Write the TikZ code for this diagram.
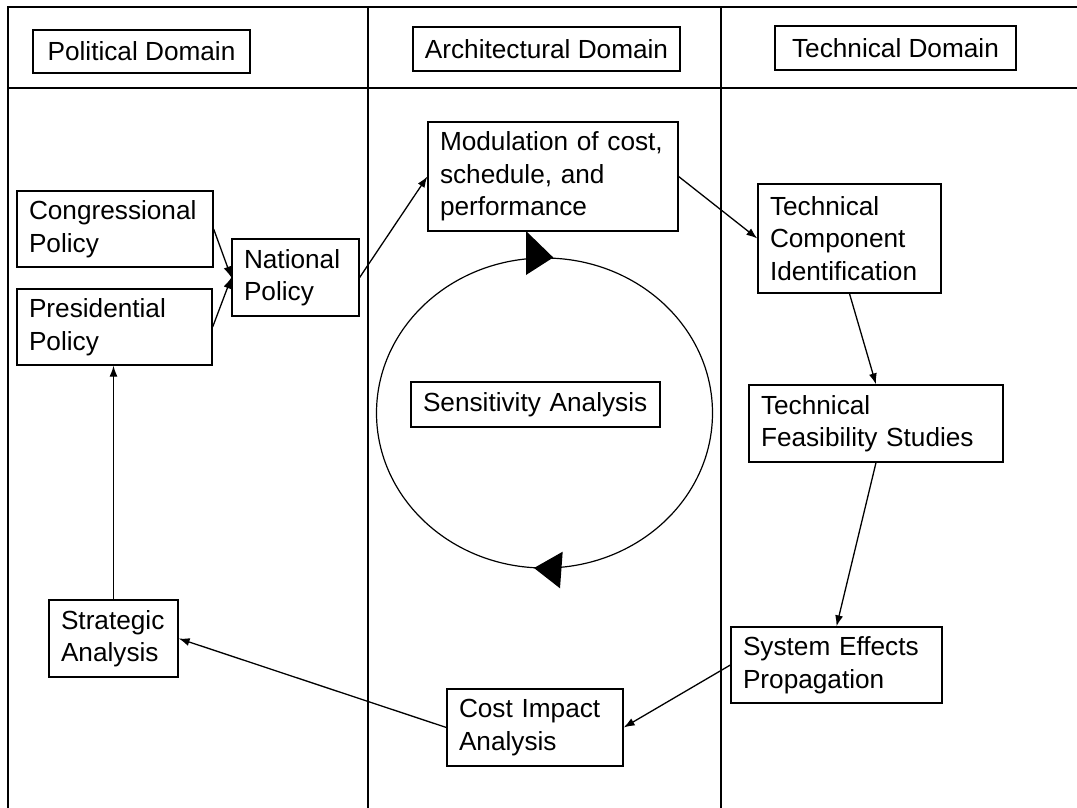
\documentclass[tikz,border=0pt]{standalone}
\usepackage{fontspec}
\setmainfont{Liberation Sans}
\usetikzlibrary{arrows.meta}

\begin{document}
\begin{tikzpicture}[x=1pt,y=-1pt,
  lbl/.style={font=\fontsize{26.2}{32.5}\selectfont},
  box/.style={lbl, draw, line width=1.3pt, inner xsep=12pt, inner ysep=0pt, align=left,
    execute at begin node={\hyphenpenalty=10000\exhyphenpenalty=10000}},
  hdr/.style={lbl, draw, line width=1.3pt, inner sep=0pt},
  flow/.style={line width=1.3pt, -{Latex[length=11pt,width=8pt]}},
  rule/.style={line width=1.3pt}]
\useasboundingbox (0,0) rectangle (1077,808);

% swim-lane frame
\draw[rule] (8,808) -- (8,7) -- (1077,7);
\draw[rule] (8,88) -- (1077,88);
\draw[rule] (368,7) -- (368,808);
\draw[rule] (721,7) -- (721,808);

% lane headers
\node[hdr, minimum width=217pt, minimum height=43pt] (hpol) at (141.5,51.5) {Political Domain};
\node[hdr, minimum width=267pt, minimum height=44pt] (harch) at (546.5,49) {Architectural Domain};
\node[hdr, minimum width=241pt, minimum height=44pt] (htech) at (895.5,48) {Technical Domain};

% process steps
\node[box, text width=172pt, minimum height=76pt] (cong) at (115,229) {Congressional\\Policy};
\node[box, text width=171pt, minimum height=76pt] (pres) at (114.5,327) {Presidential\\Policy};
\node[box, text width=103pt, minimum height=77pt] (natl) at (295.5,277.5) {National\\Policy};
\node[box, text width=226pt, minimum height=109pt] (modu) at (553,176.5) {Modulation~of~cost,\\schedule,~and\\performance};
\node[box, text width=159pt, minimum height=109pt] (tcid) at (849.5,238.5) {Technical\\Component\\Identification};
\node[box, text width=230pt, minimum height=77pt] (tfeas) at (876,423.5) {Technical\\Feasibility~Studies};
\node[box, text width=225pt, minimum height=45pt] (sens) at (535.5,404.5) {Sensitivity~Analysis};
\node[box, text width=187pt, minimum height=76pt] (syseff) at (836.5,665) {System~Effects\\Propagation};
\node[box, text width=152pt, minimum height=77pt] (cost) at (535,727.5) {Cost~Impact\\Analysis};
\node[box, text width=105pt, minimum height=77pt] (strat) at (113.5,638.5) {Strategic\\Analysis};

% sensitivity loop
\draw[line width=1.2pt] (544.5,413) ellipse [x radius=168, y radius=155];
\fill (526,231) -- (553.3,257.5) -- (526,275) -- cycle;
\fill (534,568) -- (562.7,551.7) -- (560,588.3) -- cycle;

% flow connectors
\draw[flow] (cong.east) -- (natl.west);
\draw[flow] (pres.east) -- (natl.west);
\draw[flow] (natl.east) -- (modu.west);
\draw[flow] (modu.east) -- (tcid.west);
\draw[flow] (tcid.south) -- (tfeas.north);
\draw[flow] (tfeas.south) -- (syseff.north);
\draw[flow] (syseff.west) -- (cost.east);
\draw[flow] (cost.west) -- (strat.east);
\draw[flow] (strat.north) -- (strat.north |- pres.south);
\end{tikzpicture}
\end{document}
